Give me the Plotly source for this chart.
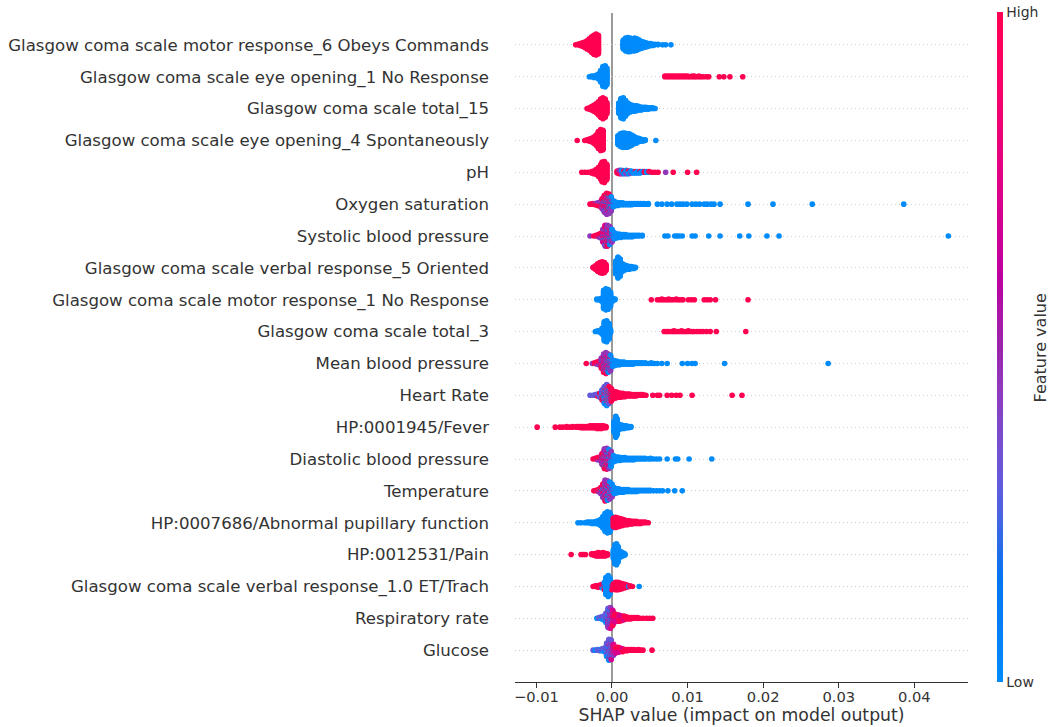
import math
import plotly.graph_objects as go

# feature-value colour levels (0 = low, 1 = high)
R, M, P, V, B = 1.0, 0.72, 0.45, 0.3, 0.0

features = [
    "Glasgow coma scale motor response_6 Obeys Commands",
    "Glasgow coma scale eye opening_1 No Response",
    "Glasgow coma scale total_15",
    "Glasgow coma scale eye opening_4 Spontaneously",
    "pH",
    "Oxygen saturation",
    "Systolic blood pressure",
    "Glasgow coma scale verbal response_5 Oriented",
    "Glasgow coma scale motor response_1 No Response",
    "Glasgow coma scale total_3",
    "Mean blood pressure",
    "Heart Rate",
    "HP:0001945/Fever",
    "Diastolic blood pressure",
    "Temperature",
    "HP:0007686/Abnormal pupillary function",
    "HP:0012531/Pain",
    "Glasgow coma scale verbal response_1.0 ET/Trach",
    "Respiratory rate",
    "Glucose",
]

x_ticks = [-0.01, 0.0, 0.01, 0.02, 0.03, 0.04]
x_tick_labels = ["\u22120.01", "0.00", "0.01", "0.02", "0.03", "0.04"]

# each entry: (SHAP value, number of samples at that value, feature value)
motor6 = [(-0.0048,1,R),(-0.0045,2,R),(-0.0042,4,R),(-0.0039,6,R),(-0.0036,9,R),(-0.0033,13,R),
          (-0.0030,18,R),(-0.0027,24,R),(-0.0024,29,R),(-0.0021,32,R),(-0.0018,28,R),
          (0.0015,14,B),(0.0018,20,B),(0.0021,22,B),(0.0024,21,B),(0.0027,19,B),(0.0030,20,B),
          (0.0033,18,B),(0.0036,14,B),(0.0039,11,B),(0.0042,9,B),(0.0045,7,B),(0.0048,5,B),
          (0.0051,4,B),(0.0054,3,B),(0.0057,2,B),(0.0061,2,B),(0.0067,1,B),(0.0071,1,B),(0.0078,1,B)]

eye1 = [(-0.0030,1,B),(-0.0027,2,B),(-0.0024,3,B),(-0.0021,4,B),(-0.0018,8,B),(-0.0015,18,B),
        (-0.0012,30,B),(-0.0009,32,B),(-0.0007,26,B),
        (0.0070,2,R),(0.0073,2,R),(0.0076,2,R),(0.0079,2,R),(0.0082,2,R),(0.0085,2,R),(0.0088,2,R),
        (0.0091,2,R),(0.0094,2,R),(0.0097,2,R),(0.0100,2,R),(0.0103,1,R),(0.0106,2,R),(0.0109,2,R),
        (0.0112,1,R),(0.0115,2,R),(0.0118,1,R),(0.0121,1,R),(0.0125,1,R),(0.0128,1,R),
        (0.0142,1,R),(0.0148,1,R),(0.0156,1,R),(0.0173,1,R)]

total15 = [(-0.0033,1,R),(-0.0030,3,R),(-0.0027,6,R),(-0.0024,10,R),(-0.0021,14,R),(-0.0018,20,R),
           (-0.0015,28,R),(-0.0012,32,R),(-0.0009,28,R),(-0.0007,18,R),
           (0.0009,16,B),(0.0012,30,B),(0.0015,32,B),(0.0018,24,B),(0.0021,16,B),(0.0024,12,B),
           (0.0027,10,B),(0.0030,9,B),(0.0033,8,B),(0.0036,6,B),(0.0039,5,B),(0.0042,4,B),
           (0.0045,4,B),(0.0048,3,B),(0.0051,2,B),(0.0054,2,B),(0.0057,1,B)]

eye4 = [(-0.0046,1,R),(-0.0036,1,R),(-0.0033,2,R),(-0.0030,4,R),(-0.0027,6,R),(-0.0024,10,R),
        (-0.0021,16,R),(-0.0018,26,R),(-0.0015,32,R),(-0.0012,30,R),
        (0.0008,14,B),(0.0011,20,B),(0.0014,22,B),(0.0017,22,B),(0.0020,21,B),(0.0023,20,B),
        (0.0026,16,B),(0.0029,12,B),(0.0032,9,B),(0.0035,6,B),(0.0038,4,B),(0.0041,3,B),
        (0.0044,2,B),(0.0058,1,B)]

ph = [(-0.0040,1,R),(-0.0036,1,R),(-0.0032,1,R),(-0.0027,3,R),(-0.0024,5,R),(-0.0021,8,R),
      (-0.0018,14,R),(-0.0015,22,R),(-0.0013,30,R),(-0.0010,32,R),(-0.0007,24,R),
      (0.0007,4,R),(0.0010,3,R),(0.0010,3,P),(0.0013,3,P),(0.0013,3,B),(0.0016,3,B),(0.0016,2,R),
      (0.0019,3,P),(0.0019,3,B),(0.0022,3,B),(0.0022,2,R),(0.0025,3,B),(0.0025,1,P),
      (0.0028,3,B),(0.0031,2,B),(0.0031,1,R),(0.0034,3,B),(0.0037,2,B),(0.0037,1,R),
      (0.0040,2,B),(0.0043,2,R),(0.0046,2,B),(0.0049,1,B),(0.0049,1,R),(0.0053,1,R),
      (0.0057,1,R),(0.0061,1,R),(0.0071,1,P),(0.0081,1,R),(0.0100,1,R),(0.0112,1,R)]

oxygen = [(-0.0029,1,R),(-0.0025,2,R),(-0.0022,1,P),(-0.0022,2,R),(-0.0019,2,P),(-0.0019,3,R),
          (-0.0016,3,P),(-0.0016,4,R),(-0.0013,2,B),(-0.0013,5,P),(-0.0013,3,M),(-0.0013,6,R),
          (-0.0010,4,B),(-0.0010,8,P),(-0.0010,4,M),(-0.0010,10,R),
          (-0.0007,6,B),(-0.0007,9,P),(-0.0007,5,M),(-0.0007,12,R),
          (-0.0004,8,B),(-0.0004,8,P),(-0.0004,4,M),(-0.0004,10,R),
          (-0.0001,9,B),(-0.0001,6,P),(-0.0001,2,M),(-0.0001,5,R),
          (0.0002,8,B),(0.0002,2,P),
          (0.0005,6,B),(0.0008,5,B),(0.0011,4,B),(0.0014,4,B),(0.0017,3,B),(0.0020,3,B),
          (0.0023,3,B),(0.0026,3,B),(0.0029,2,B),(0.0032,2,B),(0.0035,2,B),(0.0038,2,B),
          (0.0042,2,B),(0.0045,1,B),(0.0048,2,B),
          (0.0060,1,B),(0.0066,1,B),(0.0073,1,B),(0.0079,1,B),(0.0086,1,B),(0.0090,1,B),
          (0.0094,1,B),(0.0099,1,B),(0.0106,1,B),(0.0111,1,B),(0.0116,1,B),(0.0122,1,B),
          (0.0126,1,B),(0.0131,1,B),(0.0135,1,B),(0.0143,1,B),(0.0180,1,B),(0.0213,1,B),
          (0.0265,1,B),(0.0386,1,B)]

systolic = [(-0.0029,1,P),(-0.0024,1,R),(-0.0021,2,R),(-0.0018,2,P),(-0.0018,2,R),
            (-0.0015,3,P),(-0.0015,2,M),(-0.0015,3,R),
            (-0.0012,2,B),(-0.0012,7,P),(-0.0012,6,M),(-0.0012,5,R),
            (-0.0009,4,B),(-0.0009,10,P),(-0.0009,10,M),(-0.0009,8,R),
            (-0.0006,6,B),(-0.0006,10,P),(-0.0006,8,M),(-0.0006,8,R),
            (-0.0003,8,B),(-0.0003,8,P),(-0.0003,6,M),(-0.0003,6,R),
            (0.0000,10,B),(0.0000,6,P),(0.0000,2,M),(0.0000,2,R),
            (0.0003,8,B),(0.0003,2,P),
            (0.0006,7,B),(0.0009,6,B),(0.0012,5,B),(0.0015,4,B),(0.0018,4,B),(0.0021,3,B),
            (0.0024,3,B),(0.0027,3,B),(0.0030,2,B),(0.0033,2,B),(0.0036,2,B),(0.0040,2,B),
            (0.0070,1,B),(0.0074,1,B),(0.0083,1,B),(0.0086,1,B),(0.0089,1,B),(0.0093,1,B),
            (0.0106,1,B),(0.0110,1,B),(0.0128,1,B),(0.0143,1,B),(0.0169,1,B),(0.0181,1,B),
            (0.0205,1,B),(0.0221,1,B),(0.0445,1,B)]

verbal5 = [(-0.0025,2,R),(-0.0022,6,R),(-0.0019,12,R),(-0.0016,16,R),(-0.0013,18,R),
           (-0.0010,16,R),(-0.0008,10,R),
           (0.0005,20,B),(0.0008,32,B),(0.0011,26,B),(0.0014,12,B),(0.0017,8,B),(0.0020,6,B),
           (0.0023,5,B),(0.0026,4,B),(0.0029,3,B),(0.0031,2,B)]

motor1 = [(-0.0020,2,B),(-0.0017,2,B),(-0.0014,5,B),(-0.0011,28,B),(-0.0008,32,B),(-0.0005,30,B),
          (-0.0002,22,B),(0.0001,5,B),(0.0004,2,B),
          (0.0052,1,R),(0.0060,1,R),(0.0063,1,R),(0.0066,2,R),(0.0069,1,R),(0.0072,1,R),
          (0.0075,2,R),(0.0078,1,R),(0.0081,1,R),(0.0085,2,R),(0.0088,1,R),(0.0091,1,R),
          (0.0094,1,R),(0.0101,1,R),(0.0105,1,R),(0.0109,1,R),(0.0122,1,R),(0.0126,1,R),
          (0.0130,1,R),(0.0137,1,R),(0.0180,1,R)]

total3 = [(-0.0022,1,B),(-0.0019,2,B),(-0.0016,3,B),(-0.0013,10,B),(-0.0010,30,B),(-0.0007,32,B),
          (-0.0004,24,B),(-0.0002,6,B),
          (0.0069,1,R),(0.0072,1,R),(0.0075,1,R),(0.0079,1,R),(0.0082,2,R),(0.0085,1,R),
          (0.0088,1,R),(0.0092,2,R),(0.0095,1,R),(0.0098,1,R),(0.0101,2,R),(0.0105,1,R),
          (0.0108,1,R),(0.0112,1,R),(0.0116,1,R),(0.0120,1,R),(0.0125,1,R),(0.0130,1,R),
          (0.0138,1,R),(0.0177,1,R)]

mean_bp = [(-0.0034,1,R),(-0.0026,1,P),(-0.0023,2,R),(-0.0020,2,P),(-0.0020,2,R),
           (-0.0017,3,P),(-0.0017,3,R),(-0.0014,2,B),(-0.0014,6,P),(-0.0014,3,M),(-0.0014,5,R),
           (-0.0011,4,B),(-0.0011,10,P),(-0.0011,6,M),(-0.0011,8,R),
           (-0.0008,6,B),(-0.0008,10,P),(-0.0008,7,M),(-0.0008,9,R),
           (-0.0005,8,B),(-0.0005,9,P),(-0.0005,5,M),(-0.0005,6,R),
           (-0.0002,10,B),(-0.0002,8,P),(-0.0002,2,M),(-0.0002,4,R),
           (0.0001,8,B),(0.0001,2,P),
           (0.0004,8,B),(0.0007,6,B),(0.0010,5,B),(0.0013,4,B),(0.0016,4,B),(0.0019,3,B),
           (0.0022,3,B),(0.0025,3,B),(0.0028,3,B),(0.0031,2,B),(0.0034,2,B),(0.0037,2,B),
           (0.0040,2,B),(0.0044,2,B),(0.0048,1,B),(0.0052,2,B),(0.0056,1,B),(0.0060,1,B),
           (0.0066,1,B),(0.0073,1,B),(0.0093,1,B),(0.0100,1,B),(0.0106,1,B),(0.0110,1,B),
           (0.0149,1,B),(0.0286,1,B)]

heart_rate = [(-0.0029,1,V),(-0.0025,1,V),(-0.0022,2,V),(-0.0019,3,V),(-0.0019,1,R),
              (-0.0016,2,B),(-0.0016,3,V),(-0.0016,2,R),(-0.0013,4,B),(-0.0013,8,V),(-0.0013,4,R),
              (-0.0010,9,B),(-0.0010,10,V),(-0.0010,7,R),(-0.0007,11,B),(-0.0007,11,V),(-0.0007,10,R),
              (-0.0004,8,B),(-0.0004,8,V),(-0.0004,10,R),(-0.0001,4,B),(-0.0001,4,M),(-0.0001,12,R),
              (0.0002,12,R),(0.0005,10,R),(0.0008,8,R),(0.0011,7,R),(0.0014,6,R),(0.0017,5,R),
              (0.0020,4,R),(0.0023,4,R),(0.0026,3,R),(0.0029,3,R),(0.0032,3,R),(0.0035,2,R),
              (0.0038,2,R),(0.0041,2,R),(0.0045,1,R),
              (0.0054,1,R),(0.0060,1,R),(0.0063,1,R),(0.0073,1,R),(0.0079,1,R),(0.0085,1,R),
              (0.0090,1,R),(0.0106,1,R),(0.0159,1,R),(0.0172,1,R)]

fever = [(-0.0099,1,R),(-0.0075,1,R),(-0.0069,1,R),(-0.0065,1,R),(-0.0060,2,R),(-0.0056,1,R),
         (-0.0052,2,R),(-0.0047,2,R),(-0.0044,2,R),(-0.0041,3,R),(-0.0038,3,R),(-0.0035,3,R),
         (-0.0032,3,R),(-0.0029,4,R),(-0.0026,4,R),(-0.0023,4,R),(-0.0020,5,R),(-0.0017,5,R),
         (-0.0014,5,R),(-0.0011,4,R),(-0.0008,3,R),
         (0.0003,18,B),(0.0005,32,B),(0.0007,24,B),(0.0010,8,B),(0.0013,6,B),(0.0016,5,B),
         (0.0019,4,B),(0.0022,3,B),(0.0025,2,B)]

diastolic = [(-0.0025,1,R),(-0.0022,2,R),(-0.0019,2,P),(-0.0019,2,R),(-0.0016,3,P),(-0.0016,3,R),
             (-0.0013,2,B),(-0.0013,6,P),(-0.0013,4,M),(-0.0013,5,R),
             (-0.0010,4,B),(-0.0010,10,P),(-0.0010,8,M),(-0.0010,8,R),
             (-0.0007,6,B),(-0.0007,10,P),(-0.0007,8,M),(-0.0007,8,R),
             (-0.0004,8,B),(-0.0004,9,P),(-0.0004,7,M),(-0.0004,5,R),
             (-0.0001,10,B),(-0.0001,8,P),(-0.0001,2,M),(-0.0001,3,R),(0.0002,8,B),(0.0002,2,P),
             (0.0005,7,B),(0.0008,6,B),(0.0011,5,B),(0.0014,4,B),(0.0017,4,B),(0.0020,3,B),
             (0.0023,3,B),(0.0026,3,B),(0.0029,3,B),(0.0032,2,B),(0.0035,2,B),(0.0038,2,B),
             (0.0041,2,B),(0.0044,2,B),(0.0048,1,B),(0.0051,2,B),(0.0055,1,B),(0.0059,1,B),
             (0.0063,1,B),(0.0073,1,B),(0.0084,1,B),(0.0087,1,B),(0.0102,1,B),(0.0132,1,B)]

temperature = [(-0.0024,1,R),(-0.0021,2,R),(-0.0018,2,P),(-0.0018,2,R),
               (-0.0015,2,B),(-0.0015,4,P),(-0.0015,4,R),(-0.0012,4,B),(-0.0012,8,P),(-0.0012,3,M),(-0.0012,6,R),
               (-0.0009,6,B),(-0.0009,11,P),(-0.0009,7,M),(-0.0009,8,R),
               (-0.0006,8,B),(-0.0006,11,P),(-0.0006,5,M),(-0.0006,6,R),
               (-0.0003,10,B),(-0.0003,9,P),(-0.0003,3,M),(-0.0003,4,R),
               (0.0000,10,B),(0.0000,6,P),(0.0000,2,M),(0.0000,2,R),
               (0.0003,8,B),(0.0003,2,P),
               (0.0006,7,B),(0.0009,6,B),(0.0012,5,B),(0.0015,5,B),(0.0018,4,B),(0.0021,4,B),
               (0.0024,3,B),(0.0027,3,B),(0.0030,3,B),(0.0033,3,B),(0.0036,2,B),(0.0039,2,B),
               (0.0042,2,B),(0.0045,2,B),(0.0048,2,B),(0.0051,2,B),(0.0055,1,B),(0.0059,1,B),
               (0.0063,1,B),(0.0067,1,B),(0.0074,1,B),(0.0083,1,B),(0.0093,1,B)]

pupillary = [(-0.0045,1,B),(-0.0041,1,B),(-0.0036,1,B),(-0.0033,2,B),(-0.0030,2,B),(-0.0027,3,B),
             (-0.0024,3,B),(-0.0021,4,B),(-0.0018,6,B),(-0.0015,10,B),(-0.0012,18,B),(-0.0009,28,B),
             (-0.0006,32,B),(-0.0003,30,B),(-0.0001,20,B),
             (0.0002,14,R),(0.0005,16,R),(0.0008,14,R),(0.0011,12,R),(0.0014,10,R),(0.0017,8,R),
             (0.0020,7,R),(0.0023,6,R),(0.0026,5,R),(0.0029,4,R),(0.0032,4,R),(0.0035,3,R),
             (0.0038,3,R),(0.0041,2,R),(0.0044,2,R),(0.0048,1,R)]

pain = [(-0.0054,1,R),(-0.0041,1,R),(-0.0038,1,R),(-0.0035,1,R),(-0.0027,2,R),(-0.0024,3,R),
        (-0.0021,5,R),(-0.0018,6,R),(-0.0015,5,R),(-0.0012,6,R),(-0.0009,5,R),(-0.0006,3,R),
        (0.0002,14,B),(0.0004,30,B),(0.0006,32,B),(0.0008,24,B),(0.0011,10,B),(0.0014,6,B),
        (0.0017,3,B)]

et_trach = [(-0.0025,1,R),(-0.0022,2,R),(-0.0019,3,R),(-0.0016,4,R),(-0.0013,4,R),(-0.0013,2,B),
            (-0.0010,8,B),(-0.0010,4,R),(-0.0008,26,B),(-0.0005,32,B),
            (-0.0003,26,B),(0.0000,8,B),(0.0000,4,R),
            (0.0002,8,R),(0.0005,12,R),(0.0008,12,R),(0.0011,10,R),(0.0014,8,R),(0.0017,6,R),
            (0.0020,4,R),(0.0022,1,B),(0.0024,2,R),(0.0027,1,R),(0.0036,1,B)]

respiratory = [(-0.0020,1,B),(-0.0017,2,V),(-0.0014,2,B),(-0.0014,2,V),(-0.0011,4,V),(-0.0011,2,B),
               (-0.0008,8,V),(-0.0008,4,B),(-0.0008,2,P),
               (-0.0005,12,V),(-0.0005,6,B),(-0.0005,6,P),(-0.0005,4,M),
               (-0.0002,10,P),(-0.0002,6,V),(-0.0002,8,M),(-0.0002,6,B),
               (0.0001,6,P),(0.0001,10,M),(0.0001,6,R),
               (0.0004,6,M),(0.0004,6,R),(0.0007,5,M),(0.0007,5,R),(0.0010,4,M),(0.0010,5,R),
               (0.0013,3,M),(0.0013,4,R),(0.0016,2,M),(0.0016,4,R),(0.0019,4,R),(0.0022,3,R),
               (0.0025,3,R),(0.0028,2,R),(0.0031,2,R),(0.0034,2,R),(0.0037,1,R),(0.0041,1,R),
               (0.0046,1,R),(0.0050,1,R),(0.0054,1,R)]

glucose = [(-0.0025,1,V),(-0.0022,1,B),(-0.0019,2,V),(-0.0016,2,V),(-0.0016,1,B),(-0.0013,3,V),
           (-0.0013,1,B),(-0.0010,4,V),(-0.0010,2,B),
           (-0.0007,10,V),(-0.0007,6,B),(-0.0007,4,P),
           (-0.0004,12,V),(-0.0004,8,B),(-0.0004,6,P),(-0.0004,4,M),
           (-0.0001,10,V),(-0.0001,6,B),(-0.0001,6,P),(-0.0001,6,M),
           (0.0002,6,P),(0.0002,6,M),(0.0002,4,R),
           (0.0005,5,M),(0.0005,4,R),(0.0008,4,M),(0.0008,4,R),(0.0011,3,M),(0.0011,3,R),
           (0.0014,2,M),(0.0014,3,R),(0.0017,3,R),(0.0020,3,R),(0.0023,2,R),(0.0026,2,R),
           (0.0029,2,R),(0.0032,1,R),(0.0035,2,R),(0.0038,1,R),(0.0041,1,R),(0.0053,1,R)]

rows = [motor6, eye1, total15, eye4, ph, oxygen, systolic, verbal5, motor1, total3,
        mean_bp, heart_rate, fever, diastolic, temperature, pupillary, pain, et_trach,
        respiratory, glucose]

FONT = "DejaVu Sans"
TXT = "#333333"


# ---- SHAP red-blue colour map (perceptual LCh ramp) ----
def lch_to_rgb(L, C, h):
    a, b = C * math.cos(h), C * math.sin(h)
    fy = (L + 16) / 116
    fx = fy + a / 500
    fz = fy - b / 200
    def finv(t):
        return t ** 3 if t ** 3 > 0.008856 else (t - 16 / 116) / 7.787
    X, Y, Z = 0.95047 * finv(fx), 1.0 * finv(fy), 1.08883 * finv(fz)
    r = 3.2406 * X - 1.5372 * Y - 0.4986 * Z
    g = -0.9689 * X + 1.8758 * Y + 0.0415 * Z
    bb = 0.0557 * X - 0.2040 * Y + 1.0570 * Z
    def gam(c):
        c = max(0.0, min(1.0, c))
        return 12.92 * c if c <= 0.0031308 else 1.055 * c ** (1 / 2.4) - 0.055
    return tuple(int(round(255 * gam(c))) for c in (r, g, bb))


blue_lch = (54.0, 70.0, 4.6588)
red_lch = (54.0, 90.0, 0.35470565 + 2 * math.pi)
l_mid = 40.0
cscale = []
nst = 21
for k in range(nst):
    t = k / (nst - 1)
    L = blue_lch[0] + (l_mid - blue_lch[0]) * (2 * t) if t <= 0.5 else l_mid + (red_lch[0] - l_mid) * (2 * t - 1)
    C = blue_lch[1] + (red_lch[1] - blue_lch[1]) * t
    h = blue_lch[2] + (red_lch[2] - blue_lch[2]) * t
    rgb = lch_to_rgb(L, C, h)
    cscale.append([t, "rgb(%d,%d,%d)" % rgb])


# ---- beeswarm stacking (as in shap: alternate up / down within a bin) ----
def swarm(entries):
    groups, order = {}, []
    for x, cnt, c in entries:
        key = round(x, 6)
        if key not in groups:
            groups[key] = []
            order.append(key)
        groups[key].append((cnt, c))
    stacks = {}
    for key in order:
        items = []
        for cnt, c in groups[key]:
            for k in range(cnt):
                items.append(((k + 0.5) / cnt, c))
        items.sort(key=lambda t: t[0])
        stacks[key] = [c for _, c in items]
    maxoff = max(len(s) // 2 for s in stacks.values())
    unit = 0.9 * 0.4 / (maxoff + 1)
    xs, ys, cs = [], [], []
    for key in order:
        for layer, c in enumerate(stacks[key]):
            off = math.ceil(layer / 2) * ((layer % 2) * 2 - 1)
            xs.append(key)
            ys.append(off * unit)
            cs.append(c)
    return xs, ys, cs


n = len(features)
fig = go.Figure()
for i, entries in enumerate(rows):
    xs, ys, cs = swarm(entries)
    base = n - 1 - i
    marker = dict(size=5.6, color=cs, colorscale=cscale, cmin=0, cmax=1,
                  line=dict(width=0), opacity=1)
    if i == 0:
        marker.update(showscale=True, colorbar=dict(
            x=1.042, xanchor="left", y=0.5, yanchor="middle", ypad=0, xpad=10,
            len=670, lenmode="pixels", thickness=6, thicknessmode="pixels",
            outlinewidth=0, tickvals=[0, 1], ticktext=["Low", "High"], ticks="",
            tickfont=dict(family=FONT, size=14, color=TXT)))
    fig.add_trace(go.Scatter(x=xs, y=[base + v for v in ys], mode="markers",
                             marker=marker, hoverinfo="skip", showlegend=False))

fig.add_shape(type="line", xref="x", yref="paper", x0=0, x1=0, y0=0, y1=1,
              line=dict(color="#999999", width=2), layer="below")

fig.add_annotation(text="Feature value", xref="paper", yref="paper", x=1.161, y=0.5,
                   textangle=-90, showarrow=False, xanchor="center", yanchor="middle",
                   font=dict(family=FONT, size=16, color=TXT))

fig.update_layout(
    width=1052, height=727,
    margin=dict(l=515, r=84, t=13, b=45, autoexpand=False),
    paper_bgcolor="white", plot_bgcolor="white",
    font=dict(family=FONT, color=TXT),
    xaxis=dict(range=[-0.01283, 0.0471], tickvals=x_ticks, ticktext=x_tick_labels,
               showgrid=False, zeroline=False, showline=True, linecolor=TXT, linewidth=1,
               ticks="outside", ticklen=5, tickwidth=1, tickcolor=TXT, automargin=False,
               ticklabelstandoff=-4,
               tickfont=dict(family=FONT, size=14.7, color=TXT),
               title=dict(text="SHAP value (impact on model output)", standoff=2,
                          font=dict(family=FONT, size=17.3, color=TXT))),
    yaxis=dict(range=[-1, n], tickvals=list(range(n)), ticktext=features[::-1],
               showgrid=True, gridcolor="#cccccc", gridwidth=1, griddash="1px,3px",
               zeroline=False, showline=False, ticks="", ticklabelstandoff=25, automargin=False,
               tickfont=dict(family=FONT, size=16.6, color=TXT)),
)

fig.write_html("out.html", config={"displayModeBar": False},
               post_script="document.body.style.margin='0px';document.body.style.padding='0px';")
